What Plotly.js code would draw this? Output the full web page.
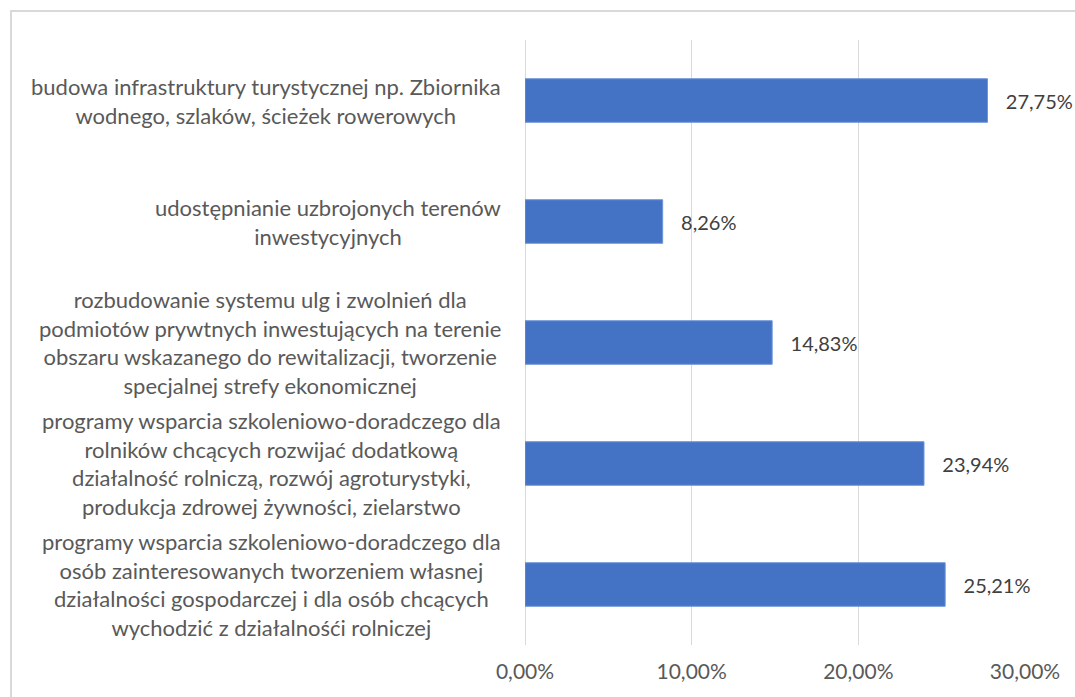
<!DOCTYPE html>
<html><head><meta charset="utf-8">
<script src="https://cdn.plot.ly/plotly-3.0.1.min.js"></script>
<style>
html,body{margin:0;padding:0;background:#fff;overflow:hidden}
#chart{width:1075px;height:697px}
#frame{position:absolute;left:10px;top:10px;width:1200px;height:800px;border:2px solid #d9d9d9;pointer-events:none}
</style></head>
<body>
<div id="chart"></div>
<div id="frame"></div>
<script>
const categories = [
  "budowa infrastruktury turystycznej np. Zbiornika<br>wodnego, szlaków, ścieżek rowerowych",
  "udostępnianie uzbrojonych terenów<br>inwestycyjnych",
  "rozbudowanie systemu ulg i zwolnień dla<br>podmiotów prywtnych inwestujących na terenie<br>obszaru wskazanego do rewitalizacji, tworzenie<br>specjalnej strefy ekonomicznej",
  "programy wsparcia szkoleniowo-doradczego dla<br>rolników chcących rozwijać dodatkową<br>działalność rolniczą, rozwój agroturystyki,<br>produkcja zdrowej żywności, zielarstwo",
  "programy wsparcia szkoleniowo-doradczego dla<br>osób zainteresowanych tworzeniem własnej<br>działalności gospodarczej i dla osób chcących<br>wychodzić z działalnośći rolniczej"
];
const values = [0.2775, 0.0826, 0.1483, 0.2394, 0.2521];
const xTicks = [0, 0.1, 0.2, 0.3];

const FONT = "Lato, 'Liberation Sans', sans-serif";
const trace = {
  type: 'bar', orientation: 'h',
  x: values, y: categories,
  marker: {color: '#4472c4', line: {color: '#6e95d8', width: 1}},
  texttemplate: '\u00a0\u00a0\u00a0%{x:.2%}', textposition: 'outside',
  textfont: {family: FONT, size: 20, color: '#404040'},
  cliponaxis: false, hoverinfo: 'none'
};
const annotations = categories.map(c => ({
  xref: 'paper', yref: 'y', x: -0.044, y: c, xanchor: 'right', yanchor: 'middle',
  align: 'center', text: c, showarrow: false,
  font: {family: FONT, size: 22, color: '#595959'}
}));
const layout = {
  width: 1075, height: 697,
  margin: {l: 525, r: 50, t: 40, b: 52},
  separators: ', ',
  bargap: 0.64,
  showlegend: false,
  paper_bgcolor: '#fff', plot_bgcolor: '#fff',
  font: {family: FONT, color: '#595959'},
  xaxis: {
    range: [0, 0.30], tickvals: xTicks, tickformat: '.2%',
    showgrid: true, gridcolor: '#d9d9d9', gridwidth: 1,
    zeroline: true, zerolinecolor: '#d9d9d9', zerolinewidth: 1,
    showline: false, ticks: '', ticklen: 0, ticklabelstandoff: 12,
    tickfont: {family: FONT, size: 21, color: '#595959'}
  },
  yaxis: {
    autorange: 'reversed', showticklabels: false, showgrid: false,
    zeroline: false, showline: false, ticks: ''
  },
  annotations: annotations
};
Plotly.newPlot('chart', [trace], layout, {displayModeBar: false, staticPlot: true});
</script>
</body></html>
